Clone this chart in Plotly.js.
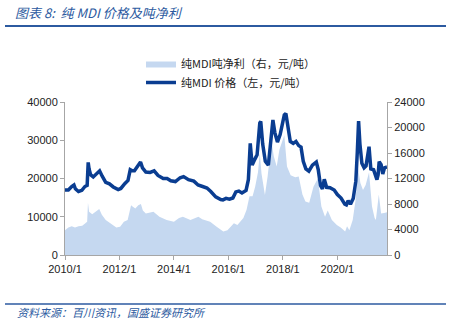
<!DOCTYPE html>
<html><head><meta charset="utf-8">
<script src="https://cdn.plot.ly/plotly-3.0.1.min.js"></script>
<style>body{margin:0;background:#fff}#c{width:452px;height:322px}</style>
</head><body><div id="c"></div>
<script>
const priceName = '纯MDI 价格（左，元/吨）';
const profitName = '纯MDI吨净利（右，元/吨）';
const xTickVals = ['2010-01-01','2012-01-01','2014-01-01','2016-01-01','2018-01-01','2020-01-01'];
const xTickText = ['2010/1','2012/1','2014/1','2016/1','2018/1','2020/1'];

const priceDates = ['2010-01-01','2010-02-15','2010-04-01','2010-05-01','2010-05-20','2010-07-01','2010-08-15','2010-09-25','2010-10-25','2010-11-08','2010-11-20','2010-12-10',
'2011-01-15','2011-03-01','2011-04-10','2011-05-15','2011-07-01','2011-08-20','2011-10-10','2011-12-15',
'2012-01-20','2012-03-15','2012-04-25','2012-05-25','2012-06-20','2012-07-20','2012-08-20','2012-10-10','2012-11-05','2012-12-20',
'2013-02-15','2013-04-10','2013-06-01','2013-08-10','2013-10-01','2013-11-20',
'2014-01-20','2014-03-25','2014-05-10','2014-07-15','2014-09-25','2014-11-20',
'2015-01-20','2015-03-20','2015-05-10','2015-07-15','2015-09-20','2015-10-20','2015-12-01',
'2016-01-15','2016-03-01','2016-04-10','2016-05-20','2016-07-01','2016-08-25','2016-09-25','2016-10-20','2016-11-15','2016-12-20',
'2017-01-20','2017-02-25','2017-03-10','2017-04-05','2017-05-10','2017-06-20','2017-07-25','2017-08-20','2017-09-15','2017-10-20','2017-11-25',
'2018-01-20','2018-02-10','2018-03-10','2018-04-10','2018-05-20','2018-06-25','2018-08-01','2018-09-01','2018-10-01','2018-11-05','2018-12-15',
'2019-02-01','2019-03-25','2019-04-20','2019-05-20','2019-06-15','2019-07-10','2019-08-10','2019-09-25','2019-11-20',
'2020-01-01','2020-02-20','2020-04-10','2020-05-01','2020-05-25','2020-06-25','2020-08-01','2020-09-05','2020-09-25','2020-10-12','2020-10-30','2020-11-25','2020-12-25',
'2021-01-20','2021-02-15','2021-03-01','2021-03-25','2021-05-01','2021-06-15','2021-07-01','2021-07-15','2021-08-10','2021-09-01','2021-09-25','2021-10-28'];
const priceValues = [17000,17000,17900,18300,17300,16600,16900,17900,18200,24200,22500,21000,
20400,21400,22000,20600,19000,18600,17800,17100,
17400,18700,19500,22300,22000,22000,23000,24300,22800,21700,
21600,22000,20800,20000,20000,19400,
19200,20200,20500,19700,19300,18300,
17900,17500,16600,15200,14500,14400,14800,
14600,14900,16500,16700,16200,16900,19700,29200,23500,25000,
26200,34500,34900,29000,24500,23500,31500,35300,32000,29500,31500,
36600,37000,33500,29700,29200,29700,28600,28200,24500,22500,21900,
23500,24300,22300,18200,17300,19800,17700,17600,17000,
15800,14900,13300,13100,14200,13300,14800,19300,27000,35000,29000,24000,22800,
23300,26500,28300,22500,22300,19700,21000,24400,23600,21200,22800,23000];

const profitDates = ['2010-01-01','2010-02-15','2010-04-01','2010-05-15','2010-07-01','2010-08-20','2010-10-01','2010-10-25','2010-11-05','2010-11-20',
'2011-01-01','2011-02-15','2011-04-05','2011-05-10','2011-07-01','2011-09-01','2011-11-20',
'2012-01-10','2012-03-01','2012-04-20','2012-06-05','2012-06-25','2012-08-01','2012-09-10','2012-10-15','2012-11-10','2012-12-20',
'2013-04-01','2013-06-20','2013-09-25',
'2014-01-01','2014-03-10','2014-05-01','2014-08-10','2014-11-25',
'2015-01-15','2015-05-01','2015-08-01','2015-10-25','2015-12-20',
'2016-03-15','2016-05-01','2016-07-20','2016-09-01','2016-10-10','2016-11-20','2016-12-25',
'2017-02-01','2017-02-25','2017-03-20','2017-05-05','2017-06-10','2017-08-01','2017-09-01','2017-10-10','2017-11-15',
'2018-01-20','2018-02-25','2018-04-15','2018-06-15','2018-08-01','2018-09-20','2018-10-30','2018-12-20',
'2019-02-15','2019-04-15','2019-06-01','2019-07-20','2019-08-25','2019-10-20','2019-12-25',
'2020-02-15','2020-04-15','2020-05-10','2020-06-10','2020-07-25','2020-09-01','2020-10-05','2020-11-05','2020-12-10',
'2021-01-15','2021-03-01','2021-04-10','2021-05-15','2021-06-01','2021-07-10','2021-08-10','2021-09-20','2021-10-28'];
const profitValues = [3900,4300,4500,4300,4500,4600,5000,5200,8200,6800,
6400,6800,7200,6300,5500,5000,4300,
4450,5200,5500,7800,7600,7300,7800,8000,7000,6500,
6800,6000,5500,
5200,5800,6000,5500,6000,
5600,5200,4400,3700,3900,
5000,4700,5800,7100,9200,9200,10700,
13000,16000,12800,9400,12300,17800,15500,13900,16500,
18800,13900,12500,12200,12300,9500,8400,8200,
10700,12000,7600,6000,7000,5500,4700,
4300,3700,4500,3900,5500,8600,13600,11300,10200,
11000,13000,7600,5800,5500,9500,6500,6600,6700];

const titleText = '图表 8:  纯 MDI 价格及吨净利';
const sourceText = '资料来源：百川资讯，国盛证券研究所';

const blue = '#2C5AA0';
const traces = [
  {x: profitDates, y: profitValues, name: profitName, type: 'scatter', mode: 'lines',
   fill: 'tozeroy', fillcolor: '#C5D8F0', line: {width: 0, color: '#C5D8F0'}, yaxis: 'y'},
  {x: priceDates, y: priceValues, name: priceName, type: 'scatter', mode: 'lines',
   line: {width: 3.5, color: '#0A3D91'}, yaxis: 'y2'}
];
const tickFont = {family: 'Liberation Sans, Arial, sans-serif', size: 11, color: '#222'};
const layout = {
  width: 452, height: 322,
  margin: {l: 65, r: 65, t: 102, b: 67},
  paper_bgcolor: '#fff', plot_bgcolor: '#fff',
  font: {family: 'Noto Sans CJK SC, sans-serif', size: 11, color: '#222'},
  title: {text: titleText, x: 15/452, xanchor: 'left', y: 1 - 13/322, yanchor: 'middle',
    font: {family: 'Noto Sans CJK SC, sans-serif', size: 13, color: blue, style: 'italic'}},
  showlegend: true,
  legend: {x: (141-65)/322, y: (255-49)/153, xanchor: 'left', yanchor: 'top', orientation: 'v',
    bgcolor: 'rgba(0,0,0,0)', font: {family: 'Noto Sans CJK SC, sans-serif', size: 11, color: '#222'},
    itemwidth: 30, tracegroupgap: 0},
  xaxis: {type: 'date', range: ['2010-01-01', '2021-10-28'], tickvals: xTickVals, ticktext: xTickText,
    showgrid: false, zeroline: false, showline: true, linecolor: '#A6A6A6', linewidth: 1,
    ticks: 'outside', ticklen: 4, tickcolor: '#A6A6A6', tickfont: tickFont},
  yaxis: {range: [0, 24000], dtick: 4000, side: 'right', showgrid: false, zeroline: false,
    showline: true, linecolor: '#A6A6A6', ticks: 'outside', ticklen: 4, tickcolor: '#A6A6A6',
    tickfont: tickFont, tickformat: 'd'},
  yaxis2: {range: [0, 40000], dtick: 10000, side: 'left', overlaying: 'y', showgrid: false, zeroline: false,
    showline: true, linecolor: '#A6A6A6', ticks: 'outside', ticklen: 4, tickcolor: '#A6A6A6',
    tickfont: tickFont, tickformat: 'd'},
  shapes: [
    {type: 'line', xref: 'paper', yref: 'paper', x0: (5-65)/322, x1: (446-65)/322, y0: (255-26)/153, y1: (255-26)/153,
     line: {color: blue, width: 2}},
    {type: 'line', xref: 'paper', yref: 'paper', x0: (5-65)/322, x1: (446-65)/322, y0: (255-304)/153, y1: (255-304)/153,
     line: {color: blue, width: 1.5}}
  ],
  annotations: [
    {text: sourceText, xref: 'paper', yref: 'paper', x: (15-65)/322, y: (255-312)/153, xanchor: 'left', yanchor: 'middle',
     showarrow: false, font: {family: 'Noto Sans CJK SC, sans-serif', size: 11, color: blue, style: 'italic'}}
  ]
};
Plotly.newPlot('c', traces, layout, {displayModeBar: false, staticPlot: true});
</script></body></html>
